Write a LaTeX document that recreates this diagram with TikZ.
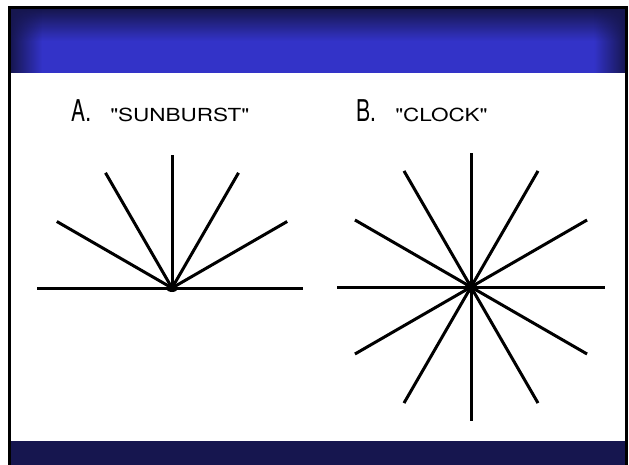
\documentclass[tikz,border=0pt]{standalone}
\usepackage{fontspec}
\setmainfont{TeX Gyre Heros}
\usepackage{xcolor}
\usetikzlibrary{positioning,fadings}
\definecolor{slideblue}{HTML}{3333C8}
\definecolor{slidenavy}{HTML}{16164F}
\newcommand{\qt}[1]{\textquotedbl#1\textquotedbl}

\begin{document}
\begin{tikzpicture}[x=1pt, y=-1pt,
  ray/.style={line width=3pt},
  letter/.style={anchor=base west, inner sep=0pt, font=\fontsize{30}{30}\selectfont, xscale=0.7, transform shape},
  caption/.style={anchor=base west, inner sep=0pt, font=\fontsize{18}{18}\selectfont, xscale=1.25, transform shape}]
\useasboundingbox (0,0) rectangle (629,465);
\fill[white] (0,0) rectangle (629,465);
% header band
\shade[top color=slidenavy, bottom color=slideblue, middle color=slideblue] (10,9) rectangle (626,73);
\fill[slidenavy, path fading=east] (10,9) rectangle (42,73);
\fill[slidenavy, path fading=west] (594,9) rectangle (626,73);
% footer band
\fill[slidenavy] (10,441) rectangle (626,466);
\draw[line width=3pt] (9,7.5) rectangle (626.5,467);

% A: sunburst
\coordinate (sun) at (172,288);
\node[letter] (sunletter) at (71,122) {A.};
\node[caption] (sunlabel) at (110,122) {\qt{SUNBURST}};
\draw[ray] (sun) -- ++(180:135);
\draw[ray] (sun) -- ++(0:131);
\foreach \a in {30,60,...,150}
  \draw[ray] (sun) -- ++(-\a:133);
\fill (sun) ellipse (6 and 4);

% B: clock
\coordinate (clk) at (471,287);
\node[letter] (clkletter) at (356,122) {B.};
\node[caption] (clklabel) at (395,122) {\qt{CLOCK}};
\foreach \a in {0,30,...,330}
  \draw[ray] (clk) -- ++(\a:134);
\fill (clk) circle (6);
\end{tikzpicture}
\end{document}
